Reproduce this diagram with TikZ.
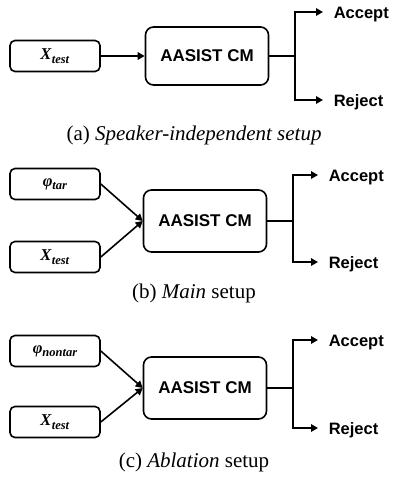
\documentclass[tikz,border=0pt]{standalone}
\usepackage{fontspec}
\setmainfont{Liberation Serif}
\setsansfont{Liberation Sans}
\usetikzlibrary{arrows.meta}

\newcommand{\bsym}[2]{\textbf{\textit{#1}}\raisebox{-3.5pt}{\fontsize{12.5}{13}\selectfont\textbf{\textit{#2}}}}

\begin{document}
\begin{tikzpicture}
  [x=1pt,y=-1pt,line width=1.6pt,>={Triangle[length=7pt,width=7.5pt]},
   inbox/.style={draw,rounded corners=5pt,minimum width=90pt,minimum height=31pt,
     inner sep=0pt,font=\fontsize{16.5}{19}\selectfont},
   cmbox/.style={draw,rounded corners=8pt,minimum width=123pt,minimum height=58pt,
     inner sep=0pt,font=\sffamily\bfseries\fontsize{17}{20}\selectfont},
   outlbl/.style={anchor=west,inner xsep=10pt,text depth=0pt,text height=12pt,
     font=\sffamily\bfseries\fontsize{16.5}{20}\selectfont},
   caption/.style={font=\fontsize{21}{24}\selectfont}]
  \useasboundingbox (0,0) rectangle (392,485);
  % (a)
  \node[inbox] (xa) at (55,56) {\bsym{X}{test}};
  \node[cmbox] (cma) at (207,56) {AASIST CM};
  \coordinate (ja) at (295,56);
  \node[outlbl] (acca) at (323,12) {Accept};
  \node[outlbl] (reja) at (323,100) {Reject};
  \node[caption] (capa) at (194,135) {(a) \textit{Speaker-independent setup}};
  % (b)
  \node[inbox] (phib) at (55,184) {\bsym{φ}{tar}};
  \node[inbox] (xb) at (55,257) {\bsym{X}{test}};
  \node[cmbox,minimum height=62pt] (cmb) at (205,221) {AASIST CM};
  \coordinate (jb) at (293,221);
  \node[outlbl] (accb) at (318,175) {Accept};
  \node[outlbl] (rejb) at (318,262) {Reject};
  \node[caption] (capb) at (194,293) {(b) \textit{Main} setup};
  % (c)
  \node[inbox] (phic) at (55,351) {\bsym{φ}{nontar}};
  \node[inbox] (xc) at (55,422) {\bsym{X}{test}};
  \node[cmbox,minimum height=62pt] (cmc) at (205,388) {AASIST CM};
  \coordinate (jc) at (293,388);
  \node[outlbl] (accc) at (318,340) {Accept};
  \node[outlbl] (rejc) at (318,428) {Reject};
  \node[caption] (capc) at (194,462) {(c) \textit{Ablation} setup};
  \foreach \from/\to in {xa/cma,phib/cmb,xb/cmb,phic/cmc,xc/cmc}
    \draw[->] (\from.east) -- (\to.west);
  \foreach \cm/\j/\acc/\rej in {cma/ja/acca/reja,cmb/jb/accb/rejb,cmc/jc/accc/rejc}
    {\draw (\cm.east) -- (\j);
     \draw[->] (\j) |- (\acc.west);
     \draw[->] (\j) |- (\rej.west);}
\end{tikzpicture}
\end{document}
